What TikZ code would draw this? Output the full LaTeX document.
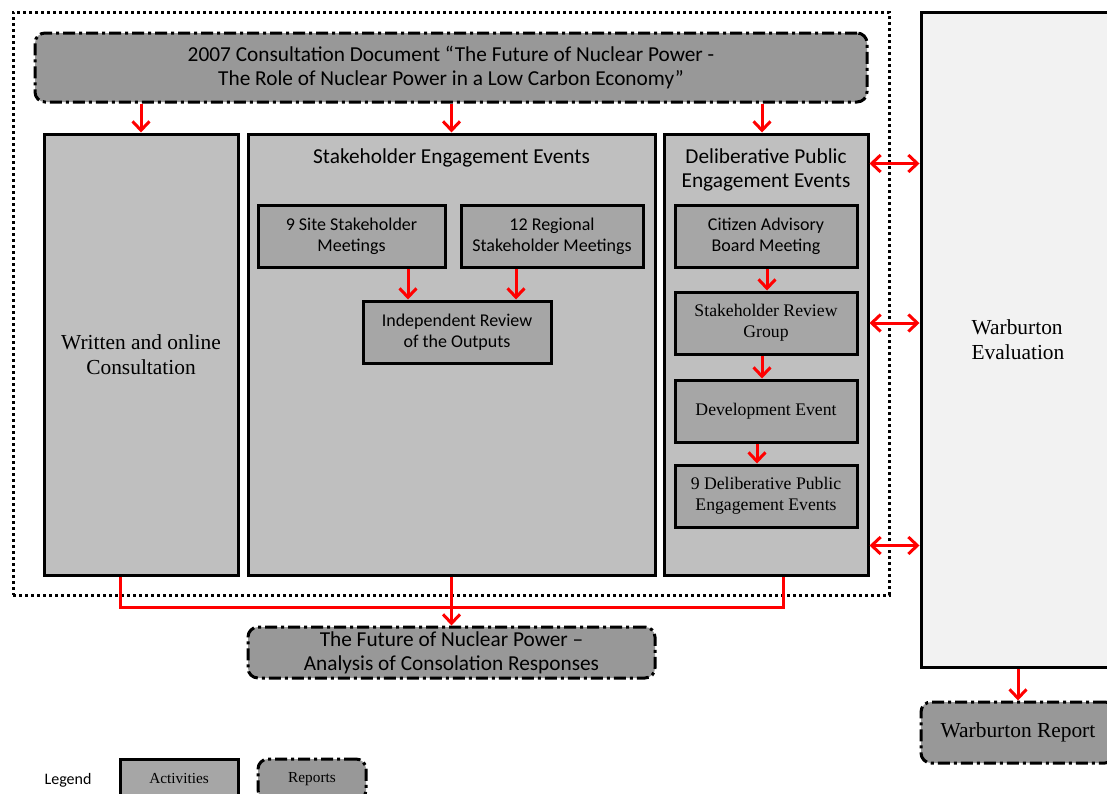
\documentclass[tikz,border=0pt]{standalone}
\usepackage{fontspec}
\setmainfont{Liberation Serif}
\newfontfamily\calibri{Carlito}
\usetikzlibrary{arrows.meta,positioning}

\definecolor{grpfill}{HTML}{BFBFBF}
\definecolor{actfill}{HTML}{A6A6A6}
\definecolor{repfill}{HTML}{989898}
\definecolor{evalfill}{HTML}{F2F2F2}

\begin{document}
\begin{tikzpicture}[x=1pt,y=-1pt,>={Straight Barb[length=9pt,width=17pt]}]
		\tikzstyle{group}=[rectangle, draw=black, line width=3pt, fill=grpfill, align=center, inner sep=2pt]
		\tikzstyle{activity}=[group, fill=actfill, minimum height=62pt]
		\tikzstyle{report}=[rectangle, rounded corners=10pt, draw=black, line width=3pt, dash pattern=on 12pt off 4pt on 3pt off 4pt, fill=repfill, align=center]
		\tikzstyle{flow}=[->, draw=red, line width=3pt]
		\tikzstyle{both}=[<->, draw=red, line width=3pt]
		\tikzstyle{big sans}=[font=\calibri\fontsize{21.3}{24}\selectfont]
		\tikzstyle{small sans}=[font=\calibri\fontsize{18}{21}\selectfont]
		\tikzstyle{big serif}=[font=\fontsize{21.4}{24.5}\selectfont]
		\tikzstyle{small serif}=[font=\fontsize{17.7}{21}\selectfont]

		\useasboundingbox (0,0) rectangle (1107,793);

		% dotted frame round the consultation
		\node [draw, line width=3pt, dash pattern=on 3pt off 3pt, minimum width=876pt, minimum height=583pt] (frame) at (451,303.5) {};

		\node [report, big sans, minimum width=832pt, minimum height=69pt] (doc) at (451,67.5)
		{2007 Consultation Document “The Future of Nuclear Power -\\The Role of Nuclear Power in a Low Carbon Economy”};

		\node [group, big serif, minimum width=194pt, minimum height=441pt] (wrt) at (141,354.5) {Written and online\\Consultation};
		\node [group, minimum width=407pt, minimum height=441pt] (see) at (451.5,354.5) {};
		\node [group, minimum width=204pt, minimum height=441pt] (dpe) at (766,354.5) {};

		\node [big sans] (seetitle) at (451.5,158) {Stakeholder Engagement Events};
		\node [big sans, align=center] (dpetitle) at (766,170) {Deliberative Public\\Engagement Events};

		% stakeholder meetings
		\node [activity, small sans, minimum width=187pt] (site) at (351.5,236) {9 Site Stakeholder\\Meetings};
		\node [activity, small sans, minimum width=182pt] (reg) at (552,236) {12 Regional\\Stakeholder Meetings};
		\node [activity, small sans, minimum width=188pt] (indep) at (457,332) {Independent Review\\of the Outputs};

		% deliberative events
		\node [activity, small sans, minimum width=182pt] (cab) at (766,236) {Citizen Advisory\\Board Meeting};
		\node [activity, small serif, minimum width=182pt] (srg) at (766,323) {Stakeholder Review\\Group};
		\node [activity, small serif, minimum width=182pt] (dev) at (766,411) {Development Event};
		\node [activity, small serif, minimum width=182pt] (dpe9) at (766,496) {9 Deliberative Public\\Engagement Events};

		\node [group, fill=evalfill, big serif, align=left, minimum width=194pt, minimum height=655pt] (warb) at (1018,339.5) {Warburton\\Evaluation};
		\node [report, big serif, minimum width=194pt, minimum height=61pt] (wrep) at (1018,732.5) {Warburton Report};
		\node [report, big sans, minimum width=407pt, minimum height=51pt] (fut) at (451.5,652.5)
		{The Future of Nuclear Power –\\Analysis of Consolation Responses};

		% legend
		\node [font=\calibri\fontsize{16}{18}\selectfont] (leg) at (68,780) {Legend};
		\node [group, fill=actfill, font=\fontsize{15.3}{18}\selectfont, minimum width=118pt, minimum height=41pt] (legact) at (179,779.5) {\raisebox{3pt}{Activities}};
		\node [report, font=\fontsize{15.3}{18}\selectfont, minimum width=108pt, minimum height=41pt] (legrep) at (312,779.5) {\raisebox{3pt}{Reports}};

		% arrows
		\draw [flow] (doc.south -| wrt.north) -- (wrt.north);
		\draw [flow] (doc.south -| see.north) -- (see.north);
		\draw [flow] ([xshift=-4pt]doc.south -| dpe.north) -- ([xshift=-4pt]dpe.north);

		\draw [flow] ([xshift=56.5pt]site.south) -- ([xshift=56.5pt]site.south |- indep.north);
		\draw [flow] ([xshift=-36pt]reg.south) -- ([xshift=-36pt]reg.south |- indep.north);

		\draw [flow] ([xshift=1pt]cab.south) -- ([xshift=1pt]srg.north);
		\draw [flow] ([xshift=-4pt]srg.south) -- ([xshift=-4pt]dev.north);
		\draw [flow] ([xshift=-9pt]dev.south) -- ([xshift=-9pt]dpe9.north);

		\coordinate (hi) at ([yshift=-31pt]dpe.north east);
		\coordinate (lo) at ([yshift=31pt]dpe.south east);
		\draw [both] (hi) -- (hi -| warb.west);
		\draw [both] (srg.east -| dpe.east) -- (srg.east -| warb.west);
		\draw [both] (lo) -- (lo -| warb.west);

		\draw [draw=red, line width=3pt] ([xshift=-21pt]wrt.south) -- ++(0,31) -| ([xshift=17pt]dpe.south);
		\draw [flow] (see.south) -- (fut.north);
		\draw [flow] (warb.south) -- (wrep.north);
	\end{tikzpicture}
\end{document}
